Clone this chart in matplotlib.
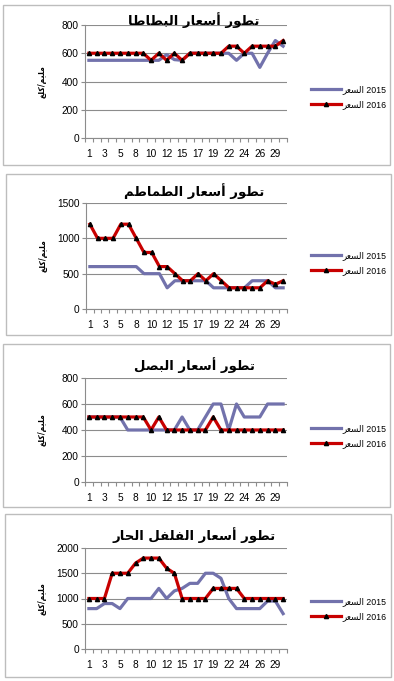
import re
import matplotlib
matplotlib.use("Agg")
import matplotlib.pyplot as plt
from matplotlib.patches import Rectangle
from matplotlib.lines import Line2D
import numpy as np

plt.rcParams["font.family"] = ["Liberation Sans", "DejaVu Sans"]

# days of the month shown on the x axis (one day per week missing)
days = [1, 2, 3, 4, 5, 6, 8, 9, 10, 11, 12, 13, 15, 16, 17, 18, 19, 20,
        22, 23, 24, 25, 26, 27, 29, 30]

series_names = ["السعر 2015", "السعر 2016"]
y_label = "مليم/كلغ"

titles = ["تطور أسعار البطاطا", "تطور أسعار الطماطم",
          "تطور أسعار البصل", "تطور أسعار الفلفل الحار"]

potato_2015 = [550, 550, 550, 550, 550, 550, 550, 550, 550, 550, 590, 555, 550,
               600, 600, 600, 600, 600, 600, 550, 600, 600, 500, 600, 690, 650]
potato_2016 = [600, 600, 600, 600, 600, 600, 600, 600, 550, 600, 550, 600, 550,
               600, 600, 600, 600, 600, 650, 650, 600, 650, 650, 650, 650, 690]

tomato_2015 = [600, 600, 600, 600, 600, 600, 600, 500, 500, 500, 300, 400, 400,
               400, 400, 400, 300, 300, 300, 300, 300, 400, 400, 400, 300, 300]
tomato_2016 = [1200, 1000, 1000, 1000, 1200, 1200, 1000, 800, 800, 600, 600, 500, 400,
               400, 500, 400, 500, 400, 300, 300, 300, 300, 300, 400, 350, 400]

onion_2015 = [500, 500, 500, 500, 500, 400, 400, 400, 400, 400, 400, 400, 500,
              400, 400, 500, 600, 600, 400, 600, 500, 500, 500, 600, 600, 600]
onion_2016 = [500, 500, 500, 500, 500, 500, 500, 500, 400, 500, 400, 400, 400,
              400, 400, 400, 500, 400, 400, 400, 400, 400, 400, 400, 400, 400]

pepper_2015 = [800, 800, 900, 900, 800, 1000, 1000, 1000, 1000, 1200, 1000, 1150, 1200,
               1300, 1300, 1500, 1500, 1400, 1000, 800, 800, 800, 800, 950, 950, 700]
pepper_2016 = [1000, 1000, 1000, 1500, 1500, 1500, 1700, 1800, 1800, 1800, 1600, 1500, 1000,
               1000, 1000, 1000, 1200, 1200, 1200, 1200, 1000, 1000, 1000, 1000, 1000, 1000]

y_max = [800, 1500, 800, 2000]
y_step = [200, 500, 200, 500]

# isolated, final, initial, medial presentation forms
FORMS = {
    "\u0627": ("\uFE8D", "\uFE8E", None, None),
    "\u0623": ("\uFE83", "\uFE84", None, None),
    "\u0628": ("\uFE8F", "\uFE90", "\uFE91", "\uFE92"),
    "\u062A": ("\uFE95", "\uFE96", "\uFE97", "\uFE98"),
    "\u062D": ("\uFEA1", "\uFEA2", "\uFEA3", "\uFEA4"),
    "\u0631": ("\uFEAD", "\uFEAE", None, None),
    "\u0633": ("\uFEB1", "\uFEB2", "\uFEB3", "\uFEB4"),
    "\u0635": ("\uFEB9", "\uFEBA", "\uFEBB", "\uFEBC"),
    "\u0637": ("\uFEC1", "\uFEC2", "\uFEC3", "\uFEC4"),
    "\u0639": ("\uFEC9", "\uFECA", "\uFECB", "\uFECC"),
    "\u063A": ("\uFECD", "\uFECE", "\uFECF", "\uFED0"),
    "\u0641": ("\uFED1", "\uFED2", "\uFED3", "\uFED4"),
    "\u0642": ("\uFED5", "\uFED6", "\uFED7", "\uFED8"),
    "\u0643": ("\uFED9", "\uFEDA", "\uFEDB", "\uFEDC"),
    "\u0644": ("\uFEDD", "\uFEDE", "\uFEDF", "\uFEE0"),
    "\u0645": ("\uFEE1", "\uFEE2", "\uFEE3", "\uFEE4"),
    "\u0648": ("\uFEED", "\uFEEE", None, None),
    "\u064A": ("\uFEF1", "\uFEF2", "\uFEF3", "\uFEF4"),
}


def shape(word):
    out = []
    for i, ch in enumerate(word):
        forms = FORMS.get(ch)
        if forms is None:
            out.append(ch)
            continue
        prev = word[i - 1] if i > 0 else None
        nxt = word[i + 1] if i < len(word) - 1 else None
        join_prev = prev in FORMS and FORMS[prev][2] is not None
        join_next = nxt in FORMS and forms[2] is not None
        if join_prev and join_next:
            out.append(forms[3])
        elif join_prev:
            out.append(forms[1])
        elif join_next:
            out.append(forms[2])
        else:
            out.append(forms[0])
    return "".join(out)


def visual(text, rtl=True):
    # matplotlib has no bidi / shaping, so build the visual order by hand
    runs = re.findall(r"[\u0600-\u06FF]+|[^\u0600-\u06FF]+", text)
    runs = [shape(r)[::-1] if re.match(r"[\u0600-\u06FF]", r) else r for r in runs]
    if rtl:
        runs = runs[::-1]
    return "".join(runs)


W, H = 394, 681
BLUE = "#7272AC"
RED = "#C80000"
GRID = "#8C8C8C"

fig = plt.figure(figsize=(W / 100, H / 100), dpi=100)

# pixel layout: (plot left, top, right, bottom), frame box, title y, legend y
plot_boxes = [(85, 25, 287, 138), (86, 203, 287, 309),
              (85, 378, 287, 482), (85, 548, 287, 649)]
frames = [(3, 5, 390, 165), (6, 174, 391, 335),
          (3, 344, 390, 507), (5, 514, 391, 677)]
title_y = [20, 191, 365, 535]
legend_y = [97, 263, 436, 609]

data = [(potato_2015, potato_2016), (tomato_2015, tomato_2016),
        (onion_2015, onion_2016), (pepper_2015, pepper_2016)]

x = np.arange(len(days))

for k in range(4):
    fx0, fy0, fx1, fy1 = frames[k]
    fig.add_artist(Rectangle((fx0 / W, 1 - fy1 / H), (fx1 - fx0) / W, (fy1 - fy0) / H,
                             transform=fig.transFigure, fill=False,
                             edgecolor="#BDBDBD", linewidth=1.0))

    l, t, r, b = plot_boxes[k]
    ax = fig.add_axes([l / W, 1 - b / H, (r - l) / W, (b - t) / H])
    s2015, s2016 = data[k]
    ax.plot(x, s2015, color=BLUE, lw=2.3, solid_joinstyle="round")
    ax.plot(x, s2016, color=RED, lw=2.3, solid_joinstyle="round",
            marker="^", ms=3.0, mfc="black", mec="black")

    ax.set_xlim(-0.5, len(days) - 0.5)
    ax.set_ylim(0, y_max[k])
    ax.set_yticks(np.arange(0, y_max[k] + 1, y_step[k]))
    ax.yaxis.grid(True, color=GRID, lw=0.8)
    ax.set_axisbelow(True)
    for s in ["top", "right"]:
        ax.spines[s].set_visible(False)
    for s in ["left", "bottom"]:
        ax.spines[s].set_color(GRID)
        ax.spines[s].set_linewidth(0.8)

    ax.set_xticks(np.arange(-0.5, len(days)), labels=[])
    ax.set_xticks(x[::2], labels=[str(d) for d in days[::2]], minor=True)
    ax.tick_params(axis="x", which="major", length=3, color=GRID, width=0.8)
    ax.tick_params(axis="x", which="minor", length=0, pad=8, labelsize=7.3)
    ax.tick_params(axis="y", length=3, color=GRID, width=0.8, pad=1.5, labelsize=7.3)

    ax.set_ylabel(visual(y_label), fontsize=5.5, fontweight="bold", family="DejaVu Sans")
    ax.yaxis.set_label_coords(-0.19, 0.5)

    fig.text(194 / W, 1 - title_y[k] / H, visual(titles[k]), ha="center", va="center",
             fontsize=9.5, fontweight="bold", family="DejaVu Sans")

    handles = [Line2D([], [], color=BLUE, lw=2.3),
               Line2D([], [], color=RED, lw=2.3, marker="^", ms=3.0,
                      mfc="black", mec="black")]
    ax.legend(handles, [visual(n, rtl=False) for n in series_names],
              loc="center left", bbox_to_anchor=(311 / W, 1 - legend_y[k] / H),
              bbox_transform=fig.transFigure, frameon=False, fontsize=6.3,
              handlelength=3.4, handletextpad=0.15, labelspacing=0.6,
              borderpad=0, borderaxespad=0)

fig.savefig("out.png", dpi=100, facecolor="white")
